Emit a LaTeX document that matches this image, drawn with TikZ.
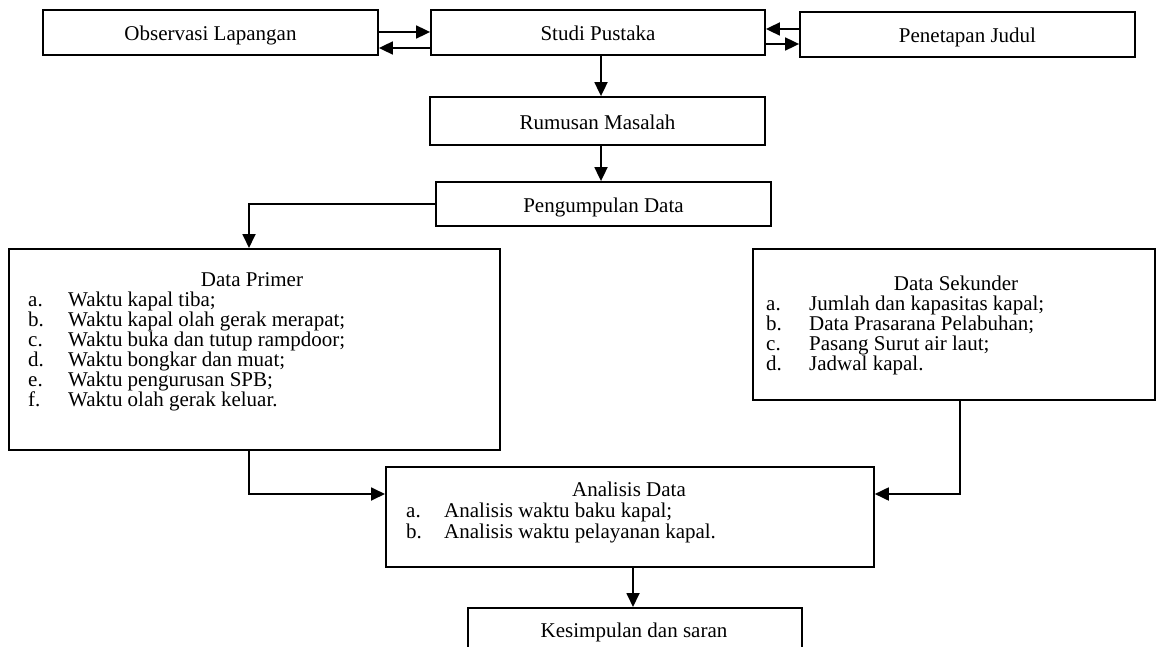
\documentclass[tikz,border=0pt]{standalone}
\usepackage{fontspec}
\setmainfont{Liberation Serif}
\usetikzlibrary{arrows.meta}
\begin{document}
\begin{tikzpicture}[x=1pt,y=-1pt,
  font=\fontsize{21}{20}\selectfont,
  box/.style={draw, line width=1.8pt, inner sep=0pt},
  lbox/.style={box, text height=17pt, text depth=0pt},
  arr/.style={line width=1.8pt, -{Triangle[length=14pt,width=13pt]}},
  txt/.style={anchor=base west, inner sep=0pt},
  ttl/.style={anchor=base, inner sep=0pt}]
\useasboundingbox (0,0) rectangle (1156,647);
\clip (0,0) rectangle (1156,647);
% top row
\node[lbox, minimum width=335pt, minimum height=45pt] (obs) at (210.5,32.5) {Observasi Lapangan};
\node[lbox, minimum width=334pt, minimum height=45pt] (stu) at (598,32.5) {Studi Pustaka};
\node[lbox, minimum width=335pt, minimum height=45pt] (pen) at (967.5,34.5) {Penetapan Judul};
\node[lbox, minimum width=335pt, minimum height=48pt] (rum) at (597.5,121) {Rumusan Masalah};
\node[lbox, minimum width=335pt, minimum height=44pt] (pgd) at (603.5,204) {Pengumpulan Data};
% data primer
\node[box, minimum width=491pt, minimum height=201pt, anchor=north west] (dp) at (8,248) {};
\node[ttl] (dpt) at (252,286) {Data Primer};
\foreach \l/\t [count=\i] in {a./Waktu kapal tiba;, b./Waktu kapal olah gerak merapat;, c./Waktu buka dan tutup rampdoor;, d./Waktu bongkar dan muat;, e./Waktu pengurusan SPB;, f./Waktu olah gerak keluar.}{
  \node[txt] (dpl\i) at (28,286+20*\i) {\l};
  \node[txt] (dpx\i) at (68,286+20*\i) {\t};
}
% data sekunder
\node[box, minimum width=402pt, minimum height=151pt, anchor=north west] (ds) at (752,248) {};
\node[ttl] (dst) at (956,290) {Data Sekunder};
\foreach \l/\t [count=\i] in {a./Jumlah dan kapasitas kapal;, b./Data Prasarana Pelabuhan;, c./Pasang Surut air laut;, d./Jadwal kapal.}{
  \node[txt] (dsl\i) at (766,290+20*\i) {\l};
  \node[txt] (dsx\i) at (809,290+20*\i) {\t};
}
% analisis
\node[box, minimum width=488pt, minimum height=100pt, anchor=north west] (an) at (385,466) {};
\node[ttl] (ant) at (629,496.5) {Analisis Data};
\foreach \l/\t [count=\i] in {a./Analisis waktu baku kapal;, b./Analisis waktu pelayanan kapal.}{
  \node[txt] (anl\i) at (406,496.5+21*\i) {\l};
  \node[txt] (anx\i) at (444,496.5+21*\i) {\t};
}
\node[box, minimum width=334pt, minimum height=60pt, anchor=north west] (kes) at (467,607) {};
\node[ttl] (kest) at (634,637) {Kesimpulan dan saran};
% helper positions
\coordinate (h1) at (0,32);
\coordinate (h2) at (0,48);
\coordinate (h3) at (0,29);
\coordinate (h4) at (0,44);
\coordinate (c1) at (601,0);
\coordinate (c2) at (633,0);
\coordinate (c3) at (249,0);
\coordinate (c4) at (960,0);
\coordinate (h5) at (0,494);
% connectors
\draw[arr] (obs.east |- h1) -- (stu.west |- h1);
\draw[arr] (stu.west |- h2) -- (obs.east |- h2);
\draw[arr] (pen.west |- h3) -- (stu.east |- h3);
\draw[arr] (stu.east |- h4) -- (pen.west |- h4);
\draw[arr] (stu.south -| c1) -- (rum.north -| c1);
\draw[arr] (rum.south -| c1) -- (pgd.north -| c1);
\draw[arr] (pgd.west) -| (dp.north -| c3);
\draw[arr] (dp.south -| c3) |- (an.west |- h5);
\draw[arr] (ds.south -| c4) |- (an.east |- h5);
\draw[arr] (an.south -| c2) -- (kes.north -| c2);
\end{tikzpicture}
\end{document}
